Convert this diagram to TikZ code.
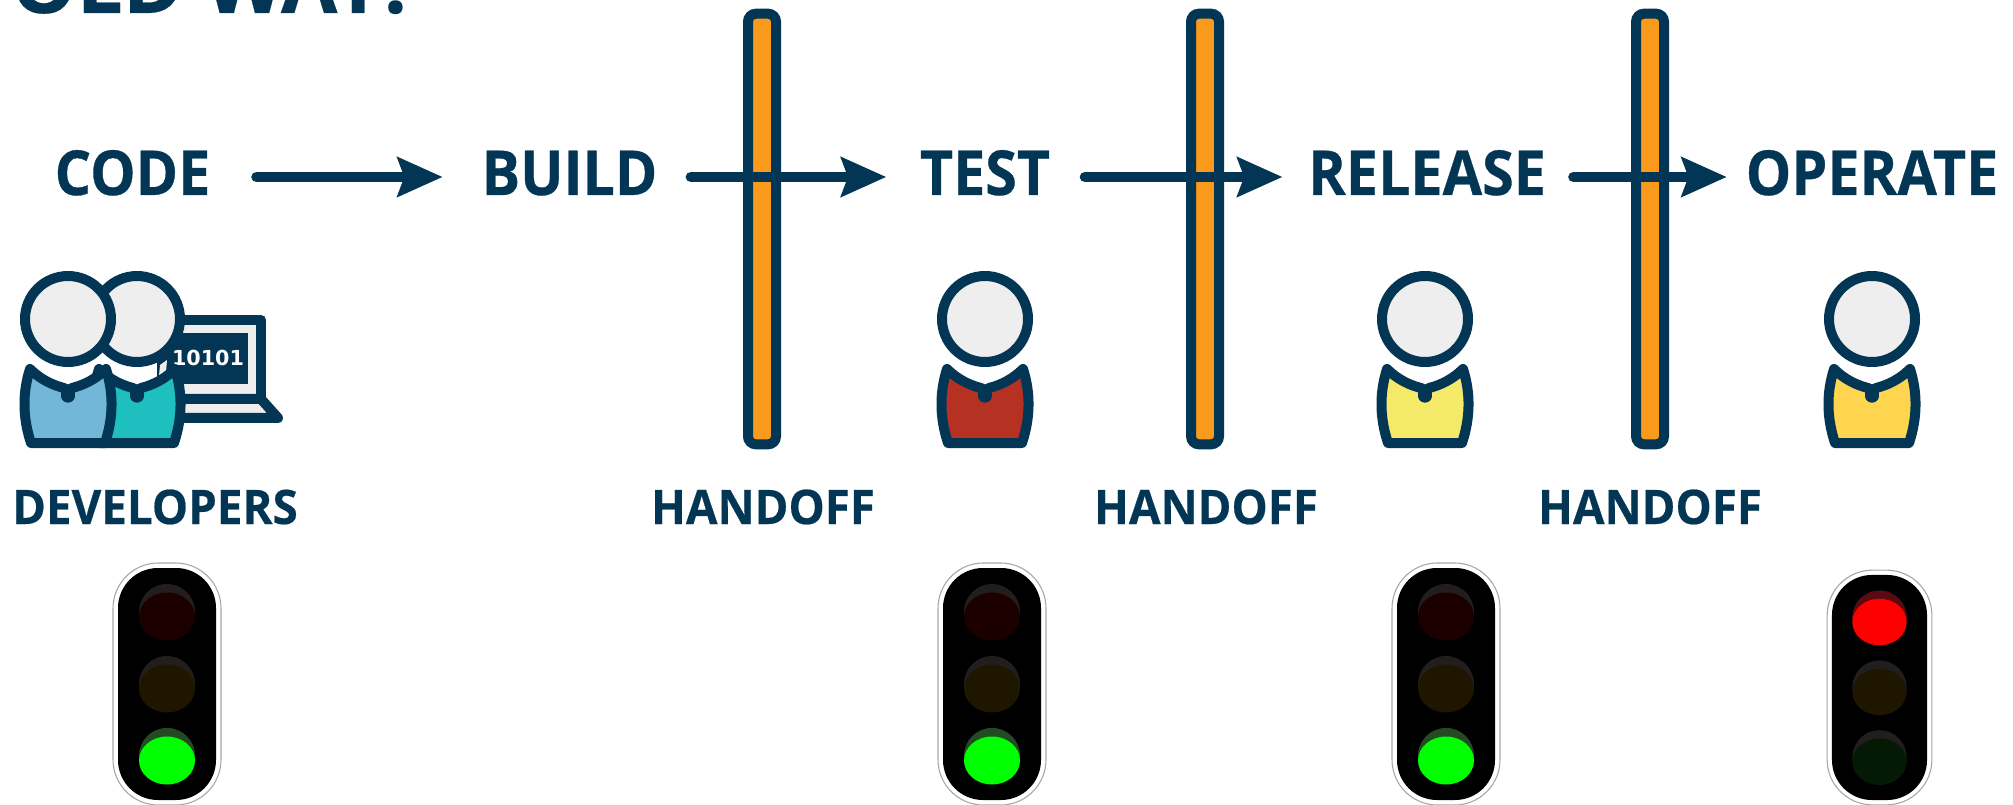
\documentclass[tikz,border=0pt]{standalone}
\usepackage{fontspec}
\setmainfont{Open Sans}[FakeBold=0.25]
\newfontfamily\stagefont{Open Sans}[FakeStretch=0.925, FakeBold=0.5]
\newfontfamily\captionfont{Open Sans}[FakeStretch=0.96, FakeBold=0.4]
\newfontfamily\digitfont{DejaVu Sans}
\usetikzlibrary{arrows.meta}
\definecolor{navy}{HTML}{033654}
\definecolor{headgrey}{HTML}{EEEEEE}
\definecolor{barorange}{HTML}{FA9A1C}
\definecolor{shirtblue}{HTML}{73B7D8}
\definecolor{shirtteal}{HTML}{1FBFBF}
\definecolor{shirtred}{HTML}{B53121}
\definecolor{shirtlemon}{HTML}{F5E96A}
\definecolor{shirtgold}{HTML}{FFD44F}
\definecolor{dimred}{HTML}{1C0000}
\definecolor{dimamber}{HTML}{1F1600}
\definecolor{dimgreen}{HTML}{041A04}
\definecolor{lampglass}{HTML}{231E1E}
\definecolor{backgreen}{HTML}{234A23}
\definecolor{backred}{HTML}{5A0A10}

\begin{document}
\begin{tikzpicture}[
x=0.75pt, y=-0.75pt,
    stage/.style={anchor=base, inner sep=0pt, text=navy, font=\stagefont\fontsize{46.5}{46.5}\selectfont\bfseries, text height=27pt, text depth=0pt},
    caption/.style={anchor=base, inner sep=0pt, text=navy, font=\captionfont\fontsize{35.7}{35.7}\selectfont\bfseries},
    headline/.style={anchor=base west, inner sep=0pt, text=navy, font=\fontsize{61.5}{61.5}\selectfont\bfseries},
    gate/.style={rectangle, draw=navy, fill=barorange, line width=7.5pt, rounded corners=6pt, minimum width=21pt, minimum height=323pt, inner sep=0pt},
    flow/.style={draw=navy, line width=8pt, line cap=round, -{Stealth[length=33.75pt, width=29.25pt, inset=5pt]}},
    outline/.style={draw=navy, line width=7.5pt, line join=round},
    person/.pic={
        \draw[outline, fill=#1] (-38,50) .. controls (-28,60) and (-16,66) .. (-4,69) -- (0,72) -- (4,69) .. controls (16,66) and (28,60) .. (38,50) .. controls (46,75) and (45,100) .. (37,124) -- (-37,124) .. controls (-45,100) and (-46,75) .. (-38,50) -- cycle;
        \draw[navy, line width=10pt, line cap=round] (0,72) -- (0,77);
        \draw[outline, fill=headgrey] (0,0) circle [radius=43];
    },
    signal/.pic={
        \draw[gray!70, line width=0.8pt, fill=white, rounded corners=34pt] (-54,-121) rectangle (54,121);
        \fill[black, rounded corners=30pt] (-49,-116) rectangle (49,116);
        \foreach \py/\lampcol in {-72/dimred, 0/dimamber, 72/dimgreen} {
            \fill[lampglass] (0,\py) circle [radius=28];
            \fill[\lampcol] (0,{\py+4.5}) ellipse [x radius=28, y radius=24];
        }
    },
    litgreen/.pic={
        \fill[backgreen] (0,72) circle [radius=28];
        \fill[green] (0,76.5) ellipse [x radius=28, y radius=24];
    },
    litred/.pic={
        \fill[backred] (0,-72) circle [radius=28];
        \fill[red] (0,-67.5) ellipse [x radius=28, y radius=24];
    }
]
    \useasboundingbox (0,0) rectangle (2013,805);
    \clip (0,0) rectangle (2013,805);

    % --- Title ---
    \node[headline] (title) at (11,13) {OLD WAY:};

    % --- Handoff Gates ---
    \node[gate] (gateone) at (762,229) {};
    \node[gate] (gatetwo) at (1205,229) {};
    \node[gate] (gatethree) at (1650,229) {};

    % --- Pipeline Stages ---
    \node[stage] (code) at (132.5,195) {CODE};
    \node[stage] (build) at (569.5,195) {BUILD};
    \node[stage] (test) at (985,195) {TEST};
    \node[stage] (release) at (1427,195) {RELEASE};
    \node[stage] (operate) at (1872,195) {OPERATE};

    \draw[flow, shorten <=34.5pt, shorten >=29pt] (code) -- (build);
    \draw[flow, shorten <=25pt, shorten >=25pt] (build) -- (test);
    \draw[flow, shorten <=26pt, shorten >=19pt] (test) -- (release);
    \draw[flow, shorten <=20.5pt, shorten >=14pt] (release) -- (operate);

    % --- Developers and Laptop ---
    \draw[outline, fill=headgrey] (170,320) rectangle (261,399);
    \draw[outline, fill=headgrey] (170,399) -- (261,399) -- (278,418) -- (170,418) -- cycle;
    \fill[navy] (157,333) rectangle (248,384);
    \fill[headgrey] (159,376) -- (160,365) -- (167,360) -- (166,372) -- cycle;
    \node[text=white, inner sep=0pt, font=\digitfont\fontsize{15.5}{15.5}\selectfont\bfseries] (bits) at (208,358) {10101};
    \pic (devtwo) at (137,319) {person=shirtteal};
    \pic (devone) at (68,319) {person=shirtblue};

    % -- Other People --
    \pic (tester) at (985,319) {person=shirtred};
    \pic (releaser) at (1425,319) {person=shirtlemon};
    \pic (operator) at (1872,319) {person=shirtgold};

    % --- Captions ---
    \node[caption] (devs) at (155,524) {DEVELOPERS};
    \node[caption] (handone) at (763,524) {HANDOFF};
    \node[caption] (handtwo) at (1206,524) {HANDOFF};
    \node[caption] (handthree) at (1650,524) {HANDOFF};

    % --- Traffic Lights ---
    \pic (lightone) at (167,684) {signal};
    \pic (lightonelit) at (167,684) {litgreen};
    \pic (lighttwo) at (992,684) {signal};
    \pic (lighttwolit) at (992,684) {litgreen};
    \pic (lightthree) at (1446,684) {signal};
    \pic (lightthreelit) at (1446,684) {litgreen};
    \pic[scale=0.97] (lightfour) at (1879.5,687.5) {signal};
    \pic[scale=0.97] (lightfourlit) at (1879.5,687.5) {litred};

\end{tikzpicture}
\end{document}
